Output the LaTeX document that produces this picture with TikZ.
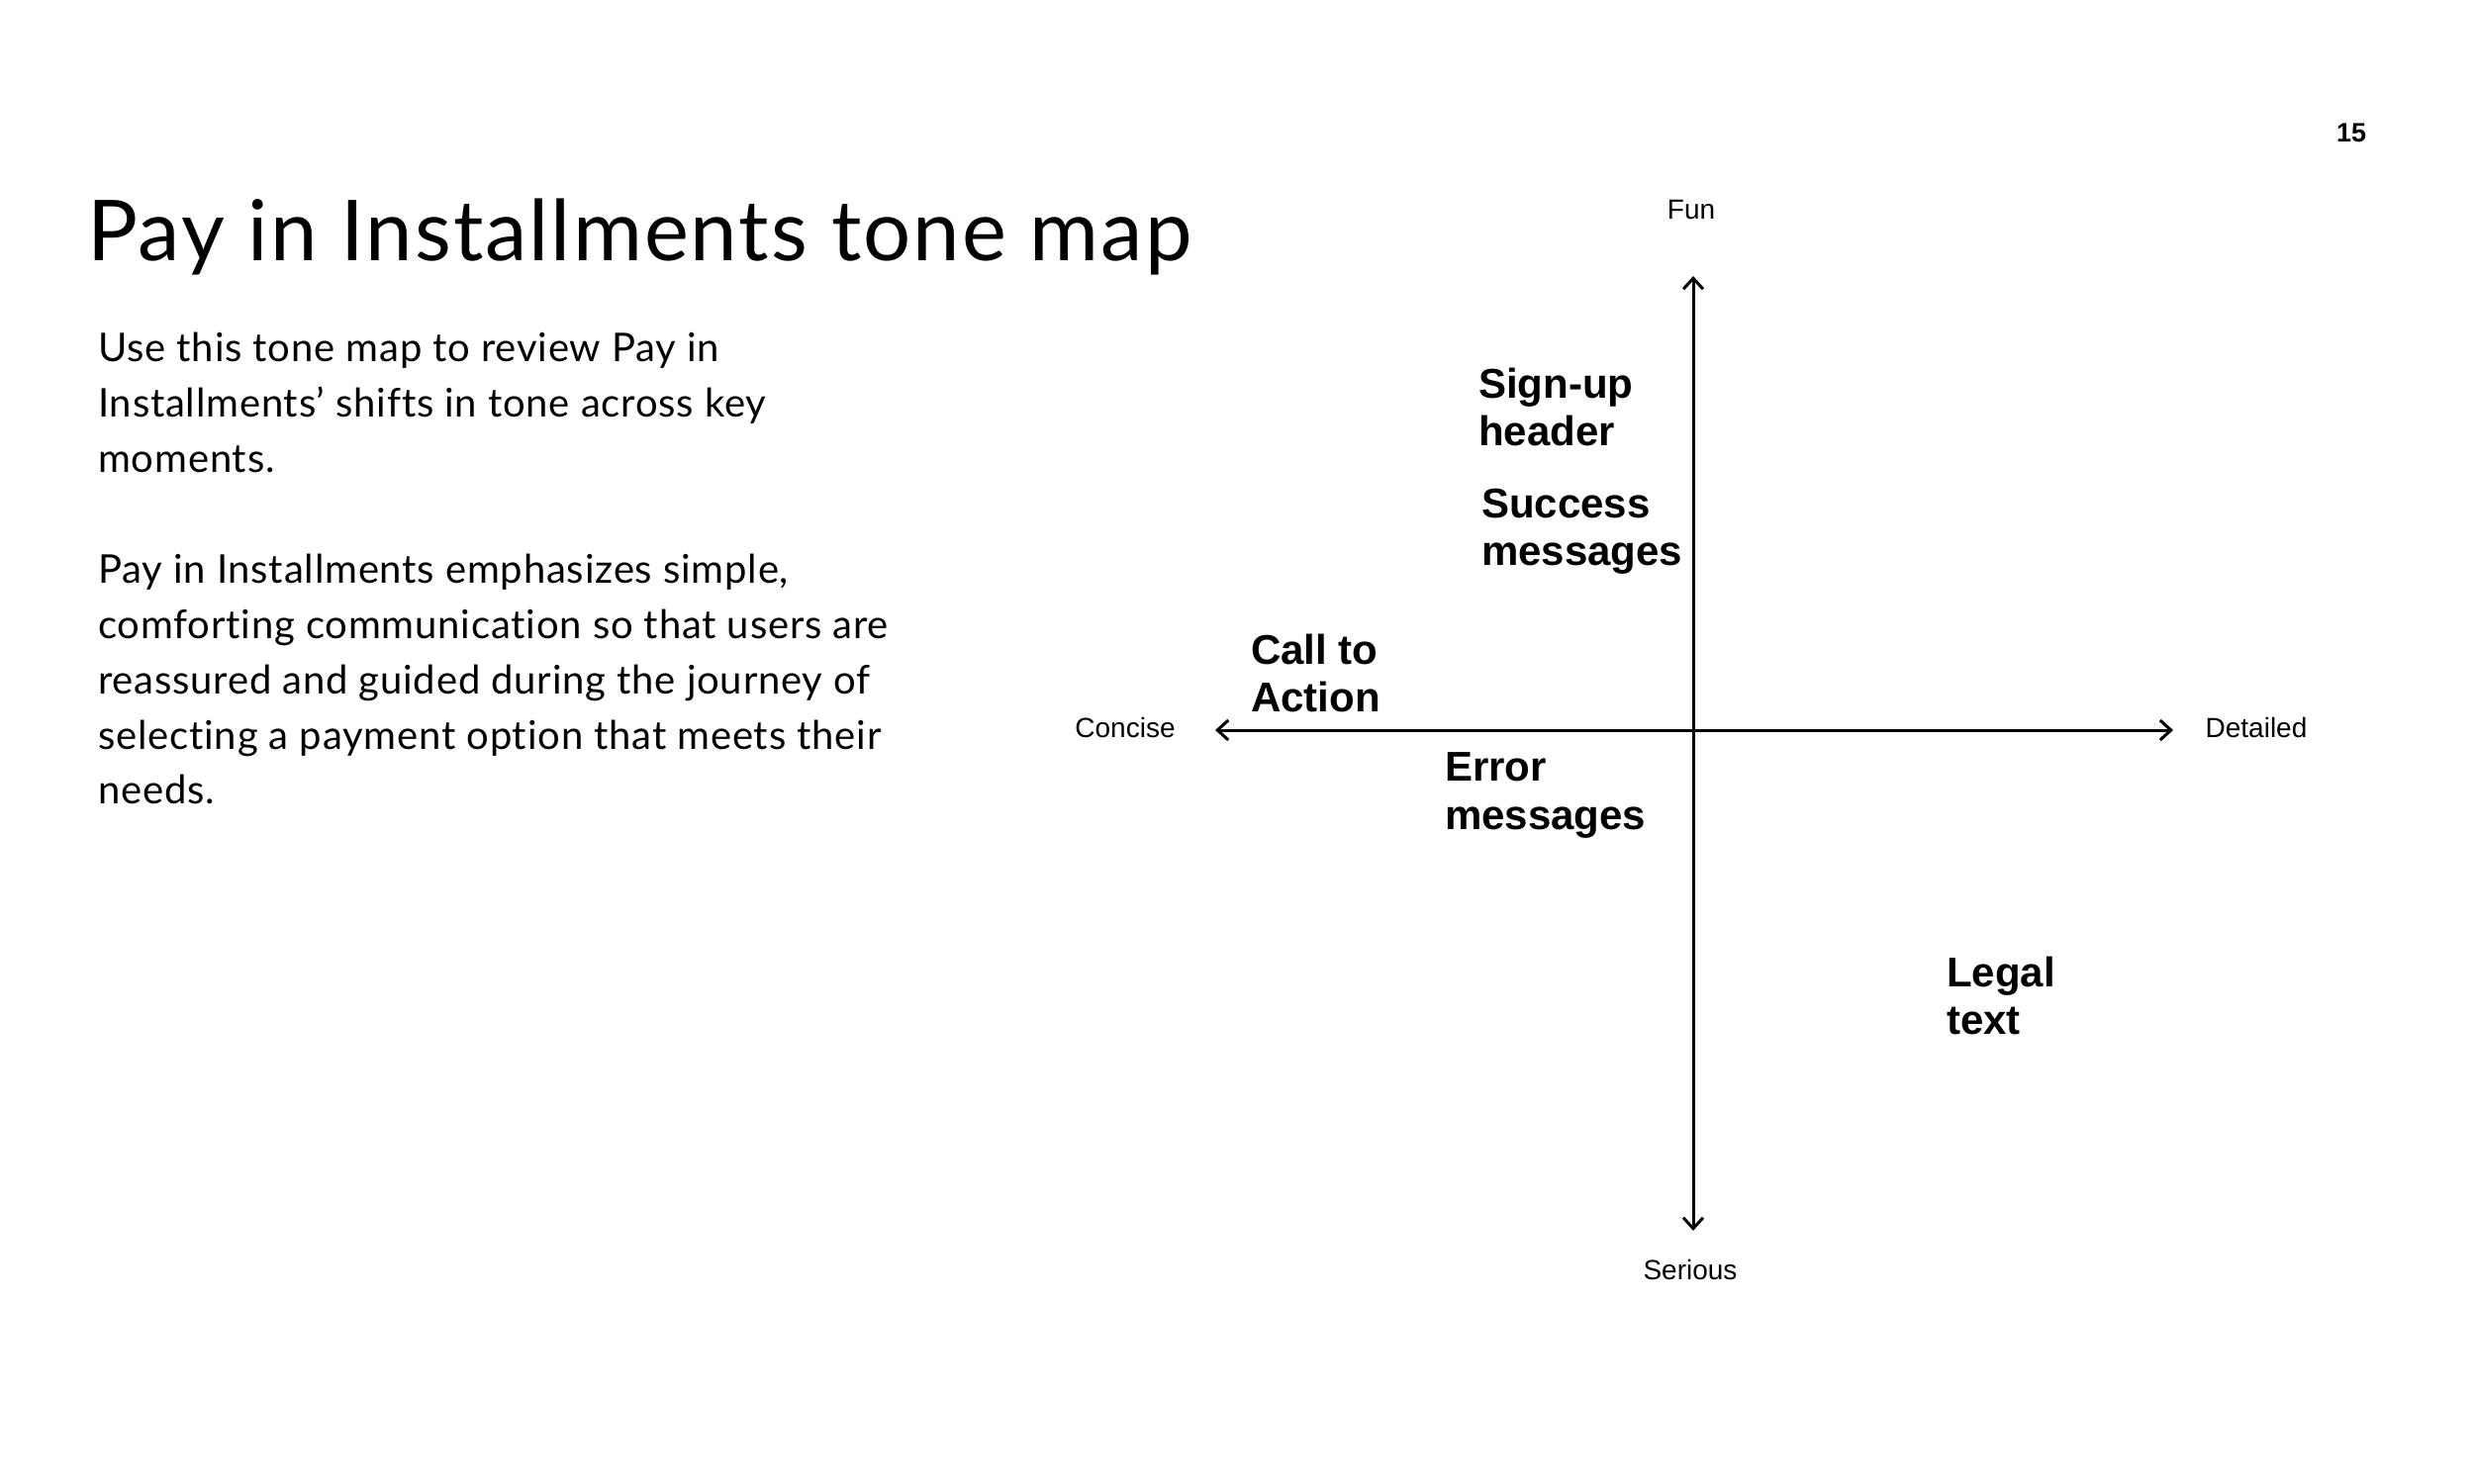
\documentclass[tikz,border=0pt]{standalone}
\usepackage{fontspec}
\setmainfont{Lato}[Ligatures=NoCommon]
\newfontfamily\labelfont{Liberation Sans}
\usetikzlibrary{arrows.meta}
\tikzset{
  axis/.style={line width=3pt, -{Straight Barb[length=11pt,width=20pt,line width=3pt]}},
  smalllab/.style={font=\labelfont\fontsize{28}{32}\selectfont, inner sep=0pt},
  toneword/.style={font=\labelfont\bfseries\fontsize{42}{48}\selectfont, anchor=base west, inner sep=0pt},
  bodytext/.style={font=\fontsize{40}{55.8}\selectfont\addfontfeatures{LetterSpace=2}, anchor=north west, align=left, inner sep=0pt},
}
\begin{document}
\begin{tikzpicture}[x=1pt,y=-1pt]
\useasboundingbox[fill=white] (0,0) rectangle (2500,1499);
% title
\node[anchor=base west, inner sep=0pt, font=\fontsize{85}{90}\selectfont\addfontfeatures{LetterSpace=2.4}] (title) at (88,263) {Pay in Installments tone map};
% page number
\node[inner sep=0pt, font=\labelfont\bfseries\fontsize{27}{30}\selectfont] (pagenum) at (2376,134) {15};
% body
\node[bodytext] (para1) at (99,336) {Use this tone map to review Pay in\\Installments' shifts in tone across key\\moments.};
\node[bodytext] (para2) at (99,560) {Pay in Installments emphasizes simple,\\comforting communication so that users are\\reassured and guided during the journey of\\selecting a payment option that meets their\\needs.};
% axes
\coordinate (center) at (1711,738);
\coordinate (top) at (1711,279);
\coordinate (bottom) at (1711,1244);
\coordinate (left) at (1228,738);
\coordinate (right) at (2196,738);
\draw[axis] (center) -- (top);
\draw[axis] (center) -- (bottom);
\draw[axis] (center) -- (left);
\draw[axis] (center) -- (right);
% axis labels
\node[smalllab, anchor=base] (fun) at (1709,221) {Fun};
\node[smalllab, anchor=base] (serious) at (1708,1293) {Serious};
\node[smalllab, anchor=base] (concise) at (1137,745) {Concise};
\node[smalllab, anchor=base] (detailed) at (2280,745) {Detailed};
% tone words
\node[toneword] (signup1) at (1494,402) {Sign-up};
\node[toneword] (signup2) at (1494,450) {header};
\node[toneword] (success1) at (1497,523) {Success};
\node[toneword] (success2) at (1497,571) {messages};
\node[toneword] (cta1) at (1264,671) {Call to};
\node[toneword] (cta2) at (1264,719) {Action};
\node[toneword] (error1) at (1460,789) {Error};
\node[toneword] (error2) at (1460,838) {messages};
\node[toneword] (legal1) at (1967,997) {Legal};
\node[toneword] (legal2) at (1967,1045) {text};
\end{tikzpicture}
\end{document}
